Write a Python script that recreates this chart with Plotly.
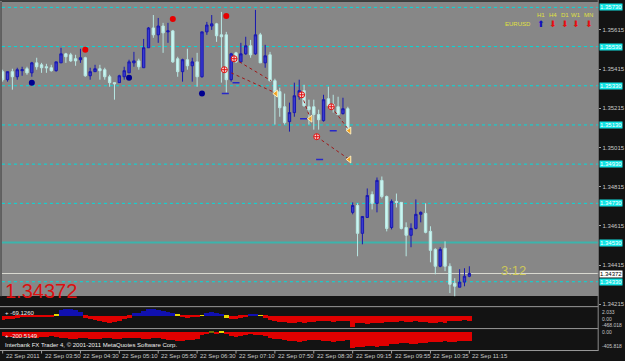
import plotly.graph_objects as go

# ---------------- data ----------------
bars = list(range(97))
time_labels = ["22 Sep 2011", "22 Sep 03:50", "22 Sep 04:30", "22 Sep 05:10", "22 Sep 05:50",
               "22 Sep 06:30", "22 Sep 07:10", "22 Sep 07:50", "22 Sep 08:30", "22 Sep 09:15",
               "22 Sep 09:55", "22 Sep 10:35", "22 Sep 11:15"]
label_bars = [0, 8, 16, 24, 32, 40, 48, 56, 64, 72, 80, 88, 96]

open_ = [
    1.35402, 1.35361, 1.35402, 1.35376, 1.35407, 1.35417, 1.35396, 1.35447, 1.35437, 1.35427,
    1.35422, 1.35407, 1.35447, 1.35493, 1.35488, 1.35468, 1.35463, 1.35473, 1.35381, 1.35402,
    1.35417, 1.35412, 1.35376, 1.35346, 1.35346, 1.35376, 1.35396, 1.35447, 1.35457, 1.35422,
    1.35524, 1.35625, 1.35590, 1.35635, 1.35605, 1.35610, 1.35468, 1.35402, 1.35463, 1.35432,
    1.35452, 1.35376, 1.35605, 1.35635, 1.35646, 1.35590, 1.35590, 1.35361, 1.35498, 1.35452,
    1.35493, 1.35534, 1.35493, 1.35590, 1.35447, 1.35488, 1.35356, 1.35300, 1.35223, 1.35147,
    1.35193, 1.35274, 1.35305, 1.35223, 1.35223, 1.35183, 1.35152, 1.35264, 1.35234, 1.35223,
    1.35188, 1.35213, 1.34684, 1.34719, 1.34577, 1.34658, 1.34775, 1.34730, 1.34847, 1.34765,
    1.34607, 1.34740, 1.34735, 1.34607, 1.34567, 1.34602, 1.34674, 1.34679, 1.34587, 1.34495,
    1.34409, 1.34501, 1.34409, 1.34322, 1.34302, 1.34328, 1.34358]
close = [
    1.35361, 1.35402, 1.35376, 1.35412, 1.35412, 1.35396, 1.35447, 1.35427, 1.35422, 1.35422,
    1.35407, 1.35452, 1.35493, 1.35478, 1.35457, 1.35457, 1.35473, 1.35381, 1.35402, 1.35417,
    1.35407, 1.35376, 1.35346, 1.35340, 1.35381, 1.35407, 1.35452, 1.35457, 1.35427, 1.35524,
    1.35625, 1.35590, 1.35635, 1.35600, 1.35610, 1.35452, 1.35402, 1.35463, 1.35432, 1.35452,
    1.35376, 1.35605, 1.35640, 1.35646, 1.35585, 1.35580, 1.35361, 1.35493, 1.35452, 1.35493,
    1.35534, 1.35488, 1.35590, 1.35447, 1.35483, 1.35356, 1.35300, 1.35218, 1.35142, 1.35193,
    1.35279, 1.35305, 1.35228, 1.35208, 1.35183, 1.35157, 1.35259, 1.35228, 1.35223, 1.35183,
    1.35213, 1.35106, 1.34719, 1.34577, 1.34663, 1.34770, 1.34730, 1.34847, 1.34765, 1.34602,
    1.34740, 1.34735, 1.34602, 1.34567, 1.34602, 1.34674, 1.34684, 1.34582, 1.34490, 1.34409,
    1.34495, 1.34409, 1.34317, 1.34307, 1.34328, 1.34358, 1.34372]
high = [
    1.35412, 1.35402, 1.35417, 1.35422, 1.35427, 1.35427, 1.35452, 1.35473, 1.35447, 1.35442,
    1.35437, 1.35452, 1.35524, 1.35498, 1.35498, 1.35488, 1.35519, 1.35478, 1.35422, 1.35437,
    1.35437, 1.35422, 1.35386, 1.35346, 1.35386, 1.35427, 1.35463, 1.35503, 1.35468, 1.35569,
    1.35630, 1.35691, 1.35676, 1.35651, 1.35651, 1.35615, 1.35478, 1.35468, 1.35519, 1.35473,
    1.35498, 1.35605, 1.35656, 1.35691, 1.35651, 1.35707, 1.35605, 1.35498, 1.35503, 1.35549,
    1.35580, 1.35564, 1.35717, 1.35600, 1.35539, 1.35503, 1.35366, 1.35320, 1.35290, 1.35244,
    1.35346, 1.35361, 1.35335, 1.35259, 1.35259, 1.35208, 1.35284, 1.35325, 1.35284, 1.35274,
    1.35269, 1.35223, 1.34735, 1.34730, 1.34663, 1.34806, 1.34791, 1.34862, 1.34867, 1.34770,
    1.34750, 1.34780, 1.34735, 1.34633, 1.34628, 1.34750, 1.34689, 1.34730, 1.34613, 1.34501,
    1.34506, 1.34536, 1.34424, 1.34348, 1.34394, 1.34399, 1.34409]
low = [
    1.35351, 1.35351, 1.35310, 1.35361, 1.35381, 1.35386, 1.35376, 1.35412, 1.35396, 1.35396,
    1.35402, 1.35402, 1.35447, 1.35447, 1.35452, 1.35432, 1.35447, 1.35376, 1.35361, 1.35402,
    1.35361, 1.35361, 1.35325, 1.35259, 1.35346, 1.35361, 1.35396, 1.35427, 1.35412, 1.35422,
    1.35524, 1.35575, 1.35549, 1.35498, 1.35549, 1.35447, 1.35376, 1.35351, 1.35412, 1.35351,
    1.35325, 1.35371, 1.35590, 1.35615, 1.35554, 1.35346, 1.35295, 1.35351, 1.35447, 1.35447,
    1.35488, 1.35473, 1.35488, 1.35447, 1.35422, 1.35351, 1.35132, 1.35172, 1.35132, 1.35096,
    1.35172, 1.35259, 1.35223, 1.35132, 1.35106, 1.35106, 1.35147, 1.35223, 1.35193, 1.35183,
    1.35183, 1.35101, 1.34674, 1.34460, 1.34521, 1.34658, 1.34699, 1.34684, 1.34755, 1.34587,
    1.34597, 1.34709, 1.34597, 1.34460, 1.34506, 1.34597, 1.34633, 1.34577, 1.34429, 1.34368,
    1.34404, 1.34384, 1.34272, 1.34256, 1.34302, 1.34307, 1.34353]

current_price = 1.34372
countdown = "3:12"
symbol = "EURUSD"
tf_names = ["H1", "H4", "D1", "W1", "MN"]
tf_up = [True, False, False, False, False]

price_ticks = [1.35615, 1.35415, 1.35215, 1.35015, 1.34815, 1.34615, 1.34415, 1.34215]
levels = [1.3573, 1.3553, 1.3533, 1.3513, 1.3493, 1.3473, 1.3453, 1.3433]
solid_level = 1.3453

fractal_up_bars = [17, 35, 46]
fractal_up_price = [1.35514, 1.35671, 1.35686]
fractal_dn_bars = [6, 26, 41]
fractal_dn_price = [1.35346, 1.35371, 1.35290]

# pattern lines (start bar, start price, end bar, end price)
pattern_lines = [
    (47.6, 1.35468, 55.2, 1.35356),
    (47.0, 1.35396, 56.0, 1.35295),
    (61.5, 1.35284, 63.3, 1.35162),
    (67.6, 1.35223, 71.3, 1.35101),
    (64.6, 1.35070, 71.3, 1.34954),
]
cross_bars = [45.6, 47.6, 61.5, 67.6, 64.6]
cross_price = [1.35412, 1.35468, 1.35284, 1.35223, 1.35070]
target_bars = [56.2, 63.3, 71.3, 71.3]
target_price = [1.35290, 1.35162, 1.35101, 1.34954]
stop_bars = [45.8, 48.0, 61.9, 68.0, 65.2]
stop_price = [1.35290, 1.35346, 1.35162, 1.35101, 1.34954]

ind1 = [-220, -165, -165, -110, -30, -30, -25, -30, -80, -90,
        -60, 110, 330, 385, 360, 300, 200, -110, -165, -220,
        -275, -330, -385, -330, -275, -165, -110, 165, 165, 275,
        385, 385, 330, 275, 220, 165, 55, -80, -110, -80,
        -55, 40, 165, 220, 165, 80, -110, -165, -165, -110,
        -80, 110, 80, 40, -110, -220, -275, -330, -350, -385,
        -385, -360, -385, -350, -330, -300, -275, -300, -330, -300,
        -275, -300, -660, -385, -410, -440, -410, -385, -385, -360,
        -330, -330, -300, -330, -330, -300, -330, -330, -385, -385,
        -360, -385, -275, -300, -275, -250, -275]
ind1_signal_bars = [11, 36, 41, 46, 53]
ind1_label = "+ -69.1260"
ind1_scale = ["2.033", "0.00", "-468.018"]
ind1_scale_vals = [190, -175, -550]

ind2 = [-115, -145, -145, -170, -145, -145, -170, -170, -145, -145, -115, -145,
        -170, -170, -200, -200, -170, -170, -200, -200, -200, -170, -170, -200, -200, -170, -170,
        -170, -170, -200, -200, -170, -170, -200, -230, -230, -255, -255, -230, -230, -200,
        -85, -55, 30, -55, 30, -55,
        -115, -145, -115, -85,
        -55, -85, -85, -115,
        -170, -200, -200,
        -230, -255, -255, -285, -255, -230, -230, -230, -255, -255, -285, -255, -255, -230,
        -460,
        -430, -430, -400, -400, -430, -400, -400,
        -345, -345, -315, -315, -345, -345, -315, -315,
        -285, -285, -285, -255, -285, -285, -255, -255, -255]
ind2_signal_bars = [45]
ind2_label = "+ -200.5149"
ind2_scale = ["0.00", "-405.818"]
ind2_scale_vals = [0, -405.818]

copyright_text = "Interbank FX Trader 4, © 2001-2011 MetaQuotes Software Corp."

# ---------------- layout constants ----------------
W, H = 625, 361
FONT = "Liberation Sans"
BG = "#131313"
GRAY = "#878787"
XL, XR = 2 / W, 603 / W
XRANGE = [-0.14, 122.5]

def py(px):  # pixel row -> paper y
    return 1 - px / H

fig = go.Figure()

fig.add_trace(go.Candlestick(
    x=bars, open=open_, high=high, low=low, close=close,
    increasing=dict(line=dict(color="#1818b0", width=1), fillcolor="#3a3ad0"),
    decreasing=dict(line=dict(color="#b8e8e4", width=1), fillcolor="#caf6f2"),
    whiskerwidth=0, hoverinfo="skip", xaxis="x", yaxis="y"))

# pattern lines
for (x0, y0, x1, y1) in pattern_lines:
    fig.add_trace(go.Scatter(x=[x0, x1], y=[y0, y1], mode="lines",
                             line=dict(color="#a01818", width=1, dash="dot"),
                             hoverinfo="skip", xaxis="x", yaxis="y"))

fig.add_trace(go.Scatter(x=stop_bars, y=stop_price, mode="markers",
                         marker=dict(symbol="line-ew", size=5, line=dict(color="#2828c8", width=1.5)),
                         hoverinfo="skip", xaxis="x", yaxis="y"))
fig.add_trace(go.Scatter(x=cross_bars, y=cross_price, mode="markers",
                         marker=dict(symbol="circle-cross", size=6, color="#f4e0e0",
                                     line=dict(color="#e01010", width=1)),
                         hoverinfo="skip", xaxis="x", yaxis="y"))
fig.add_trace(go.Scatter(x=target_bars, y=target_price, mode="markers",
                         marker=dict(symbol="triangle-left", size=6, color="#f0a020",
                                     line=dict(color="#fff0c0", width=1)),
                         hoverinfo="skip", xaxis="x", yaxis="y"))
fig.add_trace(go.Scatter(x=fractal_up_bars, y=fractal_up_price, mode="markers",
                         marker=dict(symbol="circle", size=6, color="#e80000"),
                         hoverinfo="skip", xaxis="x", yaxis="y"))
fig.add_trace(go.Scatter(x=fractal_dn_bars, y=fractal_dn_price, mode="markers",
                         marker=dict(symbol="circle", size=6, color="#000090"),
                         hoverinfo="skip", xaxis="x", yaxis="y"))

# indicator 1
c1 = []
for i, v in enumerate(ind1):
    if i in ind1_signal_bars:
        c1.append("#e8d800")
    elif v >= 0:
        c1.append("#1010b0")
    else:
        c1.append("#e00000")
fig.add_trace(go.Bar(x=bars, y=ind1, width=1.0, marker=dict(color=c1, line=dict(width=0)),
                     hoverinfo="skip", xaxis="x2", yaxis="y2"))

c2 = []
for i, v in enumerate(ind2):
    if i in ind2_signal_bars:
        c2.append("#e8d800")
    elif v >= 0:
        c2.append("#707000")
    else:
        c2.append("#e00000")
fig.add_trace(go.Bar(x=bars, y=ind2, width=1.0, marker=dict(color=c2, line=dict(width=0)),
                     hoverinfo="skip", xaxis="x3", yaxis="y3"))

shapes = []
# gray chart background
shapes.append(dict(type="rect", xref="x domain", yref="y domain", x0=0, x1=1, y0=0.033, y1=1,
                   fillcolor=GRAY, line=dict(width=0), layer="below"))
for lv in levels:
    if lv == solid_level:
        ln = dict(color="#3cb4ac", width=2)
    else:
        ln = dict(color="#00dcdc", width=1, dash="dot")
    shapes.append(dict(type="line", xref="x domain", yref="y", x0=0, x1=1, y0=lv, y1=lv,
                       line=ln, layer="below"))
shapes.append(dict(type="line", xref="x domain", yref="y", x0=0, x1=1,
                   y0=current_price, y1=current_price,
                   line=dict(color="#d8d8d0", width=1), layer="below"))
# separators
for ypx in [307.5, 329.5, 351.5]:
    shapes.append(dict(type="line", xref="paper", yref="paper", x0=0, x1=XR,
                       y0=py(ypx), y1=py(ypx), line=dict(color="#9a9a9a", width=1)))
shapes.append(dict(type="line", xref="paper", yref="paper", x0=XR, x1=XR,
                   y0=py(352), y1=1, line=dict(color="#8c8c8c", width=1)))
shapes.append(dict(type="line", xref="paper", yref="paper", x0=0, x1=XR,
                   y0=py(1), y1=py(1), line=dict(color="#6a6a6a", width=1)))
shapes.append(dict(type="line", xref="paper", yref="paper", x0=1 / W, x1=1 / W,
                   y0=py(297), y1=py(1), line=dict(color="#b0b0b0", width=1)))
# time ticks
for b in label_bars:
    shapes.append(dict(type="line", xref="x3", yref="paper", x0=b, x1=b,
                       y0=py(351.5), y1=py(354.5), line=dict(color="#a0a0a0", width=1)))

ann = []
for b, t in zip(label_bars, time_labels):
    ann.append(dict(x=b, xref="x3", y=py(356.5), yref="paper", text=t, showarrow=False,
                    xanchor="left", yanchor="middle", xshift=1,
                    font=dict(family=FONT, size=6, color="#c8c8c8")))
for lv in levels:
    ann.append(dict(x=XR, xref="paper", y=lv, yref="y", text=f"{lv:.5f}", showarrow=False,
                    xanchor="left", yanchor="middle", xshift=1, bgcolor="#10e4e4", borderpad=0,
                    font=dict(family=FONT, size=6, color="#ffffff")))
ann.append(dict(x=XR, xref="paper", y=current_price, yref="y", text=f"{current_price:.5f}",
                showarrow=False, xanchor="left", yanchor="middle", xshift=1,
                bgcolor="#ffffff", borderpad=0, font=dict(family=FONT, size=6, color="#000000")))
ann.append(dict(x=3 / W, xref="paper", y=py(291.5), yref="paper", text=f"{current_price:.5f}",
                showarrow=False, xanchor="left", yanchor="middle",
                font=dict(family=FONT, size=20, color="#dc1010")))
ann.append(dict(x=503 / W, xref="paper", y=py(271.5), yref="paper", text=countdown,
                showarrow=False, xanchor="left", yanchor="middle",
                font=dict(family=FONT, size=13, color="#cdc858")))
ann.append(dict(x=537 / W, xref="paper", y=py(24.5), yref="paper", text=symbol,
                showarrow=False, xanchor="right", yanchor="middle",
                font=dict(family=FONT, size=6, color="#e0e040")))
tf_x = [545, 557.5, 570, 581, 593.5]
for xx, name, up in zip(tf_x, tf_names, tf_up):
    ann.append(dict(x=xx / W, xref="paper", y=py(15), yref="paper", text=name,
                    showarrow=False, xanchor="center", yanchor="middle",
                    font=dict(family=FONT, size=6, color="#e0e040")))
    ann.append(dict(x=xx / W, xref="paper", y=py(24.5), yref="paper",
                    text="⬆" if up else "⬇", showarrow=False, xanchor="center", yanchor="middle",
                    font=dict(family="DejaVu Sans", size=9, color="#1010c0" if up else "#e81010")))
ann.append(dict(x=3 / W, xref="paper", y=py(314), yref="paper", text=ind1_label, showarrow=False,
                xanchor="left", yanchor="middle", font=dict(family=FONT, size=6, color="#f0f0f0")))
ann.append(dict(x=3 / W, xref="paper", y=py(336.5), yref="paper", text=ind2_label, showarrow=False,
                xanchor="left", yanchor="middle", font=dict(family=FONT, size=6, color="#f0f0f0")))
ann.append(dict(x=3 / W, xref="paper", y=py(345.5), yref="paper", text=copyright_text,
                showarrow=False, xanchor="left", yanchor="middle",
                font=dict(family=FONT, size=6, color="#f0f0f0")))
for t, v in zip(ind1_scale, ind1_scale_vals):
    ann.append(dict(x=XR, xref="paper", y=v, yref="y2", text=t, showarrow=False, xanchor="left",
                    yanchor="middle", xshift=2, font=dict(family=FONT, size=5, color="#c8c8c8")))
for t, v in zip(ind2_scale, ind2_scale_vals):
    ann.append(dict(x=XR, xref="paper", y=v, yref="y3", text=t, showarrow=False, xanchor="left",
                    yanchor="middle", xshift=2, font=dict(family=FONT, size=5, color="#c8c8c8")))

ax_common = dict(range=XRANGE, domain=[XL, XR], showgrid=False, zeroline=False,
                 showticklabels=False, ticks="", showline=False, fixedrange=True)

fig.update_layout(
    width=W, height=H, margin=dict(l=0, r=0, t=0, b=0),
    paper_bgcolor=BG, plot_bgcolor=BG, showlegend=False, hovermode=False,
    bargap=0,
    xaxis=dict(**ax_common, anchor="y", rangeslider=dict(visible=False)),
    xaxis2=dict(**ax_common, anchor="y2"),
    xaxis3=dict(**ax_common, anchor="y3"),
    yaxis=dict(domain=[py(307), py(2)], range=[1.342054, 1.357575], side="right", anchor="x",
               showgrid=False, zeroline=False, tickvals=price_ticks,
               ticktext=[f"{p:.5f}" for p in price_ticks], ticks="outside", ticklen=2,
               tickcolor="#a0a0a0", tickfont=dict(family=FONT, size=6, color="#c8c8c8"),
               showline=False, fixedrange=True),
    yaxis2=dict(domain=[py(329), py(308.5)], range=[-715, 440], anchor="x2", showgrid=False,
                zeroline=False, showticklabels=False, fixedrange=True),
    yaxis3=dict(domain=[py(351), py(330.5)], range=[-529, 72], anchor="x3", showgrid=False,
                zeroline=False, showticklabels=False, fixedrange=True),
    shapes=shapes, annotations=ann,
)

fig.write_html("out.html")
